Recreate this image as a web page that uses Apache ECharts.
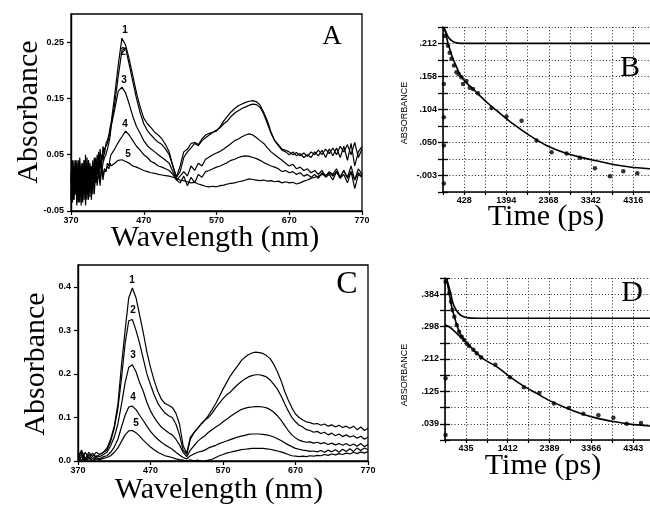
<!DOCTYPE html>
<html><head><meta charset="utf-8">
<script src="https://cdn.jsdelivr.net/npm/echarts@6/dist/echarts.min.js"></script>
<style>html,body{margin:0;padding:0;background:#fff}#c{width:650px;height:506px}</style>
</head><body><div id="c"></div>
<script>
// ---------- Panel A: spectra ----------
const wavelengthsA = [370,372,374,376,378,380,382,384,386,388,390,392,394,396,398,400,402,404,406,408,410,412,414,416,418,420,422,424,
 425,430,435,440,445,450,455,460,465,470,475,480,485,490,495,500,505,510,515,520,525,530,535,540,545,550,555,560,565,570,
 575,580,585,590,595,600,605,610,615,620,625,630,635,640,645,650,655,660,665,670,675,680,685,690,695,700,705,710,715,720,
 725,730,735,740,745,750,755,760,765,770];
const absA1 = [0.02,-0.03,0.04,-0.02,0.03,-0.035,0.045,-0.01,0.035,-0.03,0.05,-0.02,0.04,-0.025,0.03,0.0,0.045,0.01,0.05,0.02,0.06,0.03,0.065,0.05,0.07,0.075,0.085,0.10,
 0.105,0.155,0.21,0.257,0.245,0.22,0.19,0.16,0.135,0.115,
 0.105,0.098,0.09,0.085,0.078,0.068,0.055,0.03,0.01,0.03,
 0.055,0.06,0.07,0.072,0.068,0.078,0.085,0.088,0.09,0.092,
 0.10,0.11,0.118,0.126,0.132,0.137,0.14,0.143,0.145,0.146,
 0.144,0.138,0.125,0.11,0.09,0.075,0.068,0.06,0.058,0.055,
 0.05,0.054,0.048,0.053,0.047,0.055,0.05,0.058,0.05,0.06,
 0.052,0.062,0.05,0.065,0.055,0.068,0.05,0.072,0.045,0.06];
const absA2 = [-0.02,0.035,-0.03,0.03,-0.04,0.04,-0.015,0.03,-0.035,0.04,-0.01,0.045,-0.02,0.035,0.005,0.04,0.0,0.045,0.015,0.055,0.025,0.05,0.04,0.06,0.06,0.07,0.08,0.09,
 0.10,0.14,0.19,0.235,0.24,0.21,0.18,0.15,0.125,0.105,
 0.093,0.085,0.078,0.072,0.068,0.06,0.05,0.03,0.01,0.02,
 0.045,0.055,0.062,0.07,0.066,0.075,0.08,0.085,0.09,0.094,
 0.098,0.105,0.11,0.118,0.124,0.128,0.132,0.135,0.138,0.14,
 0.139,0.134,0.122,0.105,0.088,0.075,0.066,0.058,0.055,0.05,
 0.055,0.048,0.052,0.045,0.05,0.045,0.055,0.048,0.058,0.045,
 0.06,0.048,0.062,0.045,0.065,0.04,0.07,0.03,0.055,0.065];
const absA3 = [0.01,-0.035,0.03,-0.02,0.04,-0.03,0.025,-0.04,0.035,-0.015,0.03,-0.03,0.04,-0.01,0.03,-0.02,0.035,0.0,0.03,0.01,0.04,0.02,0.035,0.045,0.05,0.06,0.07,0.085,
 0.10,0.13,0.163,0.17,0.16,0.14,0.118,0.10,0.088,0.075,
 0.066,0.06,0.055,0.05,0.045,0.04,0.035,0.02,0.005,0.012,
 0.02,0.012,0.03,0.022,0.035,0.03,0.042,0.046,0.05,0.053,
 0.056,0.06,0.065,0.07,0.075,0.078,0.082,0.085,0.087,0.085,
 0.08,0.075,0.07,0.062,0.055,0.05,0.045,0.04,0.035,0.03,
 0.033,0.025,0.028,0.022,0.025,0.018,0.022,0.015,0.022,0.012,
 0.02,0.015,0.025,0.01,0.022,0.01,0.03,0.005,0.025,0.015];
const absA4 = [-0.03,0.03,-0.02,0.04,-0.035,0.02,-0.025,0.035,-0.03,0.03,-0.04,0.025,-0.02,0.03,-0.03,0.02,-0.01,0.03,-0.005,0.025,0.0,0.03,0.01,0.025,0.02,0.035,0.03,0.045,
 0.05,0.06,0.072,0.082,0.092,0.085,0.075,0.065,0.058,0.05,
 0.045,0.038,0.035,0.03,0.028,0.025,0.022,0.015,0.005,0.0,
 0.012,-0.005,0.01,0.0,0.015,0.01,0.02,0.022,0.025,0.028,
 0.03,0.033,0.036,0.04,0.042,0.045,0.047,0.048,0.047,0.045,
 0.043,0.04,0.036,0.033,0.03,0.028,0.025,0.02,0.022,0.018,
 0.02,0.015,0.018,0.012,0.015,0.01,0.015,0.008,0.018,0.01,
 0.015,0.005,0.02,0.008,0.015,0.0,0.02,-0.01,0.015,0.01];
const absA5 = [0.0,0.04,-0.03,0.02,-0.02,0.035,-0.035,0.025,-0.01,0.04,-0.025,0.02,-0.03,0.025,-0.015,0.03,-0.02,0.025,0.0,0.02,-0.005,0.03,0.005,0.025,0.02,0.03,0.025,0.035,
 0.03,0.035,0.04,0.041,0.038,0.035,0.03,0.028,0.025,0.022,
 0.02,0.018,0.017,0.015,0.014,0.013,0.012,0.01,0.008,0.005,
 0.004,0.002,0.0,0.001,-0.002,-0.004,-0.006,-0.007,-0.006,-0.007,
 -0.005,-0.004,-0.002,-0.001,0.0,0.002,0.003,0.005,0.007,0.006,
 0.005,0.004,0.005,0.003,0.004,0.002,0.003,0.0,0.002,0.0,
 0.001,-0.002,0.0,0.003,0.005,0.008,0.01,0.012,0.015,0.013,
 0.018,0.012,0.02,0.01,0.022,0.008,0.02,0.005,0.018,0.012];
const xTickValuesA = [370,470,570,670,770];
const xTickLabelsA = ["370","470","570","670","770"];
const yTickValuesA = [-0.05,0.05,0.15,0.25];
const yTickLabelsA = ["-0.05","0.05","0.15","0.25"];

// ---------- Panel C: spectra ----------
const wavelengthsC = [370,375,380,385,390,395,400,405,410,415,420,425,430,435,440,445,450,455,460,465,
 470,475,480,485,490,495,500,505,510,515,520,525,530,535,540,545,550,555,560,565,
 570,575,580,585,590,595,600,605,610,615,620,625,630,635,640,645,650,655,660,665,
 670,675,680,685,690,695,700,705,710,715,720,725,730,735,740,745,750,755,760,765,770];
const absC1 = [0.01,0.025,0.005,0.02,0.01,0.02,0.015,0.02,0.03,0.05,
 0.08,0.13,0.22,0.30,0.375,0.397,0.375,0.335,0.295,0.25,
 0.215,0.185,0.16,0.142,0.132,0.128,0.123,0.11,0.085,0.035,
 0.018,0.055,0.065,0.075,0.085,0.094,0.105,0.118,0.132,0.148,
 0.165,0.18,0.195,0.207,0.218,0.23,0.238,0.244,0.248,0.25,
 0.249,0.247,0.242,0.235,0.222,0.205,0.185,0.16,0.14,0.122,
 0.108,0.1,0.094,0.09,0.088,0.085,0.086,0.082,0.085,0.08,
 0.083,0.078,0.082,0.077,0.08,0.075,0.08,0.072,0.078,0.07,0.075];
const absC2 = [0.015,0.0,0.02,0.005,0.018,0.008,0.015,0.02,0.025,0.045,
 0.075,0.12,0.19,0.27,0.322,0.325,0.3,0.27,0.235,0.2,
 0.175,0.152,0.133,0.12,0.11,0.104,0.1,0.085,0.06,0.025,
 0.015,0.05,0.065,0.075,0.085,0.094,0.1,0.11,0.122,0.133,
 0.143,0.152,0.158,0.167,0.175,0.182,0.188,0.193,0.196,0.198,
 0.198,0.196,0.193,0.186,0.176,0.165,0.15,0.132,0.115,0.1,
 0.09,0.082,0.078,0.072,0.07,0.066,0.068,0.063,0.066,0.06,
 0.064,0.058,0.062,0.056,0.06,0.055,0.058,0.052,0.057,0.05,0.055];
const absC3 = [0.01,0.02,0.0,0.015,0.005,0.012,0.01,0.015,0.02,0.035,
 0.055,0.085,0.13,0.18,0.215,0.221,0.205,0.18,0.16,0.135,
 0.115,0.1,0.088,0.078,0.071,0.065,0.06,0.05,0.037,0.02,
 0.01,0.025,0.035,0.045,0.052,0.058,0.066,0.072,0.078,0.083,
 0.09,0.096,0.102,0.108,0.113,0.118,0.121,0.123,0.124,0.125,
 0.125,0.124,0.122,0.118,0.112,0.104,0.094,0.082,0.07,0.06,
 0.053,0.048,0.045,0.043,0.044,0.041,0.043,0.04,0.042,0.038,
 0.041,0.037,0.04,0.036,0.04,0.035,0.039,0.034,0.04,0.033,0.038];
const absC4 = [0.005,0.015,0.0,0.01,0.0,0.008,0.005,0.01,0.012,0.02,
 0.032,0.05,0.078,0.105,0.124,0.126,0.118,0.105,0.093,0.08,
 0.068,0.058,0.05,0.043,0.037,0.032,0.027,0.02,0.014,0.008,
 0.005,0.012,0.016,0.02,0.022,0.025,0.03,0.033,0.036,0.04,
 0.043,0.046,0.049,0.052,0.055,0.057,0.059,0.061,0.062,0.062,
 0.062,0.061,0.06,0.058,0.055,0.051,0.047,0.042,0.037,0.033,
 0.029,0.027,0.025,0.024,0.022,0.023,0.021,0.024,0.02,0.025,
 0.021,0.026,0.02,0.027,0.022,0.028,0.022,0.03,0.024,0.03,0.026];
const absC5 = [0.0,0.01,-0.002,0.006,0.0,0.005,0.003,0.006,0.008,0.012,
 0.02,0.03,0.045,0.06,0.069,0.07,0.065,0.057,0.048,0.04,
 0.032,0.026,0.02,0.016,0.012,0.01,0.008,0.005,0.003,0.002,
 0.0,0.003,0.0,0.002,-0.001,0.0,0.002,0.004,0.008,0.012,
 0.015,0.018,0.02,0.022,0.024,0.026,0.027,0.028,0.029,0.029,
 0.029,0.029,0.028,0.027,0.025,0.023,0.021,0.018,0.015,0.012,
 0.011,0.01,0.011,0.01,0.012,0.011,0.013,0.012,0.015,0.013,
 0.016,0.014,0.017,0.015,0.018,0.016,0.02,0.017,0.021,0.018,0.022];
const xTickValuesC = [370,470,570,670,770];
const xTickLabelsC = ["370","470","570","670","770"];
const yTickValuesC = [0.0,0.1,0.2,0.3,0.4];
const yTickLabelsC = ["0.0","0.1","0.2","0.3","0.4"];

// ---------- Panel B: kinetics ----------
const bFastTime = [-45,0,50,100,150,200,300,400,600,4704];
const bFastAbs  = [0.238,0.232,0.224,0.219,0.216,0.214,0.2125,0.212,0.212,0.212];
const bFitTime = [-45,0,19,56,95,171,250,326,450,556,787,1000,1171,1554,1939,2323,2706,3091,3475,3858,4243,4704];
const bFitAbs  = [0.238,0.230,0.224,0.212,0.203,0.187,0.174,0.162,0.150,0.143,0.127,0.113,0.103,0.081,0.062,0.046,0.035,0.027,0.021,0.015,0.011,0.008];
const bDotTime = [-40,-40,-40,-40,-20,56,95,135,194,250,303,365,402,480,556,632,747,1056,1402,1748,2093,2439,2785,3091,3437,3782,4089,4411];
const bDotAbs  = [0.146,0.092,0.046,-0.016,0.224,0.208,0.197,0.187,0.176,0.165,0.162,0.157,0.146,0.151,0.140,0.138,0.131,0.107,0.093,0.086,0.054,0.035,0.033,0.026,0.009,-0.004,0.004,0.001];
const bXTickValues = [428,1394,2368,3342,4316];
const bXTickLabels = ["428","1394","2368","3342","4316"];
const bYTickValues = [-0.003,0.050,0.104,0.158,0.212];
const bYTickLabels = ["-.003",".050",".104",".158",".212"];

// ---------- Panel D: kinetics ----------
const dFastTime = [-14,0,70,148,265,382,500,700,4736];
const dFastAbs  = [0.427,0.42,0.391,0.355,0.333,0.324,0.321,0.320,0.320];
const dFitTime = [-14,0,47,104,165,221,297,414,608,841,1154,1465,1776,2089,2400,2711,3101,3491,3879,4269,4736];
const dFitAbs  = [0.427,0.415,0.385,0.35,0.324,0.303,0.28,0.26,0.236,0.212,0.191,0.164,0.140,0.120,0.100,0.0845,0.067,0.054,0.045,0.038,0.033];
const dSlowTime = [-50,60,180,300,414];
const dSlowAbs  = [0.302,0.296,0.284,0.271,0.26];
const dDotTime = [-40,-40,-40,47,87,118,165,221,275,338,392,455,508,609,688,789,1123,1465,1790,2150,2490,2840,3179,3530,3880,4191,4525];
const dDotAbs  = [0.417,0.160,0.009,0.387,0.364,0.342,0.324,0.302,0.284,0.271,0.262,0.253,0.246,0.236,0.227,0.216,0.196,0.163,0.136,0.121,0.093,0.081,0.066,0.062,0.055,0.039,0.041];
const dXTickValues = [435,1412,2389,3366,4343];
const dXTickLabels = ["435","1412","2389","3366","4343"];
const dYTickValues = [0.039,0.125,0.212,0.298,0.384];
const dYTickLabels = [".039",".125",".212",".298",".384"];

// ---------- build ----------
const zip = (xs, ys) => xs.map((x, i) => [x, ys[i]]);
const lookup = (vals, labs) => v => { for (let i = 0; i < vals.length; i++) if (Math.abs(vals[i] - v) < 1e-6) return labs[i]; return ''; };
const tickFont = {fontFamily: 'Liberation Sans', fontSize: 9, fontWeight: 'bold', color: '#000'};
const black = '#000';

function specX(grid, vals, labs) {
  return {type:'value', gridIndex:grid, min:370, max:770, interval:100,
    axisLine:{onZero:false, lineStyle:{color:black,width:1.4}},
    axisTick:{length:4, lineStyle:{color:black,width:1.2}},
    axisLabel:Object.assign({margin:5, customValues:vals, formatter:lookup(vals,labs)}, tickFont),
    splitLine:{show:false}};
}
function specY(grid, min, max, vals, labs) {
  return {type:'value', gridIndex:grid, min:min, max:max,
    axisLine:{onZero:false, lineStyle:{color:black,width:1.4}},
    axisTick:{length:4, customValues:vals, lineStyle:{color:black,width:1.2}},
    axisLabel:Object.assign({margin:7, customValues:vals, formatter:lookup(vals,labs)}, tickFont),
    splitLine:{show:false}};
}
const dotted = {show:true, lineStyle:{color:'#222', width:1, type:[1,2.2]}};
function kinX(grid, min, max, interval, vals, labs) {
  return {type:'value', gridIndex:grid, min:min, max:max, interval:interval,
    axisLine:{onZero:false, lineStyle:{color:black,width:1.6}},
    axisTick:{length:3, lineStyle:{color:black,width:1.2}},
    axisLabel:Object.assign({margin:4, customValues:vals, formatter:lookup(vals,labs)}, tickFont),
    splitLine:dotted};
}
function kinY(grid, min, max, interval, vals, labs) {
  return {type:'value', gridIndex:grid, min:min, max:max, interval:interval, position:'left',
    axisLine:{onZero:false, lineStyle:{color:black,width:1.6}},
    axisTick:{length:5, lineStyle:{color:black,width:1.3}},
    axisLabel:Object.assign({margin:6, customValues:vals, formatter:lookup(vals,labs)}, tickFont),
    splitLine:dotted};
}
function kinYInner(grid, min, max, interval) {
  return {type:'value', gridIndex:grid, min:min, max:max, interval:interval, position:'left',
    axisLine:{show:false, onZero:false}, axisLabel:{show:false}, splitLine:{show:false},
    axisTick:{show:true, inside:true, length:5, lineStyle:{color:black,width:1.3}}};
}
const lineS = (xi, yi, data, w) => ({type:'line', xAxisIndex:xi, yAxisIndex:yi, data:data, symbol:'none',
  lineStyle:{color:black, width:w}, silent:true, z:3});
const dotS = (xi, yi, data) => ({type:'scatter', xAxisIndex:xi, yAxisIndex:yi, data:data, symbol:'circle',
  symbolSize:4.5, itemStyle:{color:black}, silent:true, z:4});

const txt = (text, x, y, font, rot) => ({type:'text', x:x, y:y, rotation:rot||0, silent:true,
  style:{text:text, font:font, fill:black, align:'center', verticalAlign:'middle'}});
const serif30 = '30px "Liberation Serif"';

const option = {
  animation:false,
  backgroundColor:'#fff',
  grid:[
    {left:71, top:14, width:291, height:197, show:true, borderColor:black, borderWidth:1.3, backgroundColor:'transparent'},
    {left:78, top:265, width:290, height:196, show:true, borderColor:black, borderWidth:1.3, backgroundColor:'transparent'},
    {left:443, top:27, width:207, height:165},
    {left:445, top:278, width:205, height:162}
  ],
  xAxis:[
    specX(0, xTickValuesA, xTickLabelsA),
    specX(1, xTickValuesC, xTickLabelsC),
    kinX(2, -59, 4704, 487, bXTickValues, bXTickLabels),
    kinX(3, -53.5, 4736, 488.5, dXTickValues, dXTickLabels)
  ],
  yAxis:[
    specY(0, -0.05, 0.30, yTickValuesA, yTickLabelsA),
    specY(1, 0.0, 0.45, yTickValuesC, yTickLabelsC),
    kinY(2, -0.0297, 0.2387, 0.02684, bYTickValues, bYTickLabels),
    kinYInner(2, -0.0297, 0.2387, 0.02684),
    kinY(3, -0.0042, 0.4272, 0.04314, dYTickValues, dYTickLabels),
    kinYInner(3, -0.0042, 0.4272, 0.04314)
  ],
  series:[
    lineS(0,0,zip(wavelengthsA,absA1),1.2), lineS(0,0,zip(wavelengthsA,absA2),1.2),
    lineS(0,0,zip(wavelengthsA,absA3),1.2), lineS(0,0,zip(wavelengthsA,absA4),1.2),
    lineS(0,0,zip(wavelengthsA,absA5),1.2),
    lineS(1,1,zip(wavelengthsC,absC1),1.2), lineS(1,1,zip(wavelengthsC,absC2),1.2),
    lineS(1,1,zip(wavelengthsC,absC3),1.2), lineS(1,1,zip(wavelengthsC,absC4),1.2),
    lineS(1,1,zip(wavelengthsC,absC5),1.2),
    Object.assign(lineS(2,2,zip(bFastTime,bFastAbs),1.6),{smooth:0.3}),
    Object.assign(lineS(2,2,zip(bFitTime,bFitAbs),1.6),{smooth:0.3}),
    dotS(2,2,zip(bDotTime,bDotAbs)),
    Object.assign(lineS(3,4,zip(dFastTime,dFastAbs),1.6),{smooth:0.3}),
    Object.assign(lineS(3,4,zip(dFitTime,dFitAbs),1.6),{smooth:0.3}),
    Object.assign(lineS(3,4,zip(dSlowTime,dSlowAbs),1.6),{smooth:0.3}),
    dotS(3,4,zip(dDotTime,dDotAbs))
  ],
  graphic:[
    txt('Absorbance', 29, 112, serif30, Math.PI/2),
    txt('Wavelength (nm)', 215, 238, serif30),
    txt('A', 332, 37, '27px "Liberation Serif"'),
    txt('Absorbance', 36, 364, serif30, Math.PI/2),
    txt('Wavelength (nm)', 219, 490, serif30),
    txt('C', 347, 285, '32px "Liberation Serif"'),
    txt('ABSORBANCE', 405, 113, '9px "Liberation Sans"', Math.PI/2),
    txt('Time (ps)', 546, 217, serif30),
    txt('B', 630, 68, '30px "Liberation Serif"'),
    txt('ABSORBANCE', 405, 375, '9px "Liberation Sans"', Math.PI/2),
    txt('Time (ps)', 543, 466, serif30),
    txt('D', 632, 293, '30px "Liberation Serif"'),
    txt('1', 125, 30, 'bold 10px "Liberation Sans"'),
    txt('2', 123, 52, 'bold 10px "Liberation Sans"'),
    txt('3', 124, 80, 'bold 10px "Liberation Sans"'),
    txt('4', 125, 124, 'bold 10px "Liberation Sans"'),
    txt('5', 128, 154, 'bold 10px "Liberation Sans"'),
    txt('1', 132, 280, 'bold 10px "Liberation Sans"'),
    txt('2', 133, 310, 'bold 10px "Liberation Sans"'),
    txt('3', 133, 355, 'bold 10px "Liberation Sans"'),
    txt('4', 133, 397, 'bold 10px "Liberation Sans"'),
    txt('5', 136, 423, 'bold 10px "Liberation Sans"')
  ]
};
const chart = echarts.init(document.getElementById('c'), null, {renderer:'canvas'});
chart.setOption(option);
</script></body></html>
